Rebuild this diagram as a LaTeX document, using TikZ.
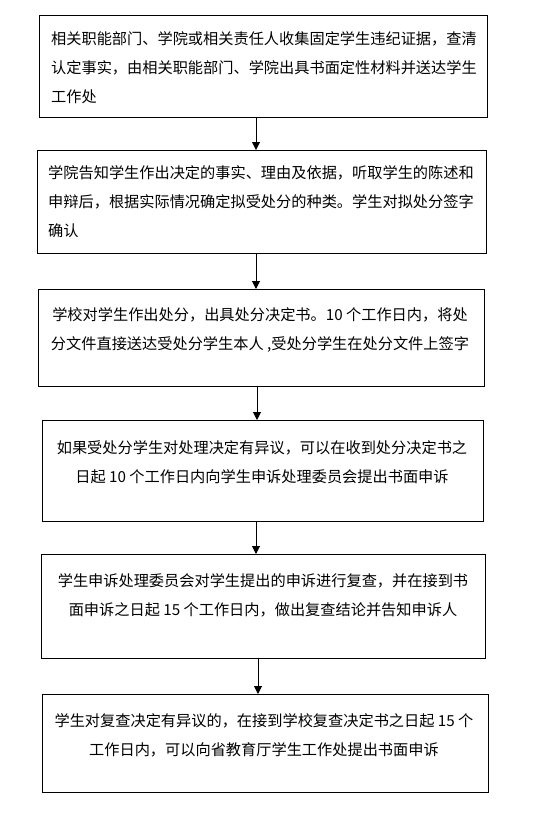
\documentclass[tikz,border=0pt]{standalone}
\usepackage{fontspec}
\setmainfont{Noto Sans CJK SC}
\usetikzlibrary{arrows.meta,calc}
\begin{document}
\begin{tikzpicture}[x=1pt,y=-1pt,
  box/.style={draw,line width=1pt,inner sep=0pt,anchor=north west},
  txt/.style={inner sep=0pt,font=\fontsize{15.2}{29}\selectfont},
  arr/.style={line width=1pt,-{Triangle[length=8pt,width=8pt]}}]
\useasboundingbox (0,0) rectangle (543,815);
% boxes
\node[box,minimum width=448pt,minimum height=102pt] (b1) at (39,15) {};
\node[box,minimum width=449pt,minimum height=103pt] (b2) at (37,150) {};
\node[box,minimum width=446pt,minimum height=97pt]  (b3) at (38,289) {};
\node[box,minimum width=441pt,minimum height=101pt] (b4) at (42,420) {};
\node[box,minimum width=444pt,minimum height=104pt] (b5) at (41,554) {};
\node[box,minimum width=446pt,minimum height=98pt]  (b6) at (42,694) {};
% texts
\node[txt,align=left,anchor=north west] (t1) at (51,31)
  {相关职能部门、学院或相关责任人收集固定学生违纪证据，查清\\认定事实，由相关职能部门、学院出具书面定性材料并送达学生\\工作处};
\node[txt,align=left,anchor=north west] (t2) at (48,165)
  {学院告知学生作出决定的事实、理由及依据，听取学生的陈述和\\申辩后，根据实际情况确定拟受处分的种类。学生对拟处分签字\\确认};
\node[txt,align=center,anchor=north] (t3) at (260,307)
  {学校对学生作出处分，出具处分决定书。10 个工作日内，将处\\分文件直接送达受处分学生本人 ,受处分学生在处分文件上签字};
\node[txt,align=center,anchor=north] (t4) at (262,440)
  {如果受处分学生对处理决定有异议，可以在收到处分决定书之\\日起 10 个工作日内向学生申诉处理委员会提出书面申诉};
\node[txt,align=center,anchor=north] (t5) at (263,573)
  {学生申诉处理委员会对学生提出的申诉进行复查，并在接到书\\面申诉之日起 15 个工作日内，做出复查结论并告知申诉人};
\node[txt,align=center,anchor=north] (t6) at (264,713)
  {学生对复查决定有异议的，在接到学校复查决定书之日起 15 个\\工作日内，可以向省教育厅学生工作处提出书面申诉};
% arrow columns
\coordinate (a1) at (256,0);
\coordinate (a2) at (256,0);
\coordinate (a3) at (257,0);
\coordinate (a4) at (256,0);
\coordinate (a5) at (258,0);
\draw[arr] (b1.south -| a1) -- (b2.north -| a1);
\draw[arr] (b2.south -| a2) -- (b3.north -| a2);
\draw[arr] (b3.south -| a3) -- (b4.north -| a3);
\draw[arr] (b4.south -| a4) -- (b5.north -| a4);
\draw[arr] (b5.south -| a5) -- (b6.north -| a5);
\end{tikzpicture}
\end{document}
